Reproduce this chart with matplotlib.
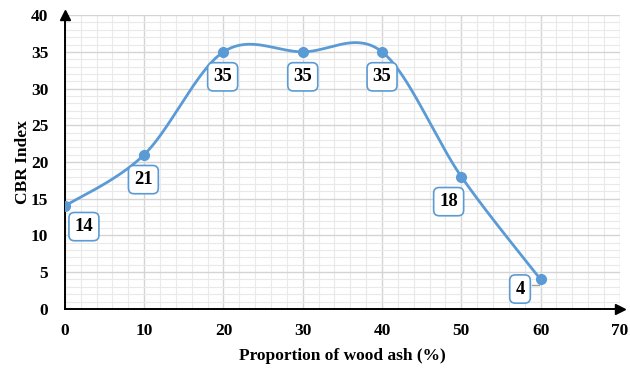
import numpy as np
import matplotlib.pyplot as plt
from matplotlib.ticker import MultipleLocator

# wood ash content vs CBR
ash = [0, 10, 20, 30, 40, 50, 60]
cbr = [14, 21, 35, 35, 35, 18, 4]
# label box centres (data units)
lab_x = [2.4, 9.9, 19.9, 30.0, 40.0, 48.4, 57.4]
lab_y = [11.2, 17.6, 31.6, 31.6, 31.6, 14.6, 2.7]

blue = '#5B9BD5'
serif = ['Liberation Serif', 'DejaVu Serif']


def smooth(xs, ys, n=40):
    # excel-like smoothed line: bezier segments with catmull-rom handles
    p = np.column_stack([xs, ys]).astype(float)
    p = np.vstack([p[0], p, p[-1]])
    out = []
    for i in range(1, len(p) - 2):
        p0, p1, p2, p3 = p[i - 1], p[i], p[i + 1], p[i + 2]
        c1 = p1 + (p2 - p0) / 6
        c2 = p2 - (p3 - p1) / 6
        t = np.linspace(0, 1, n)[:, None]
        seg = ((1 - t) ** 3) * p1 + 3 * t * (1 - t) ** 2 * c1 + 3 * t ** 2 * (1 - t) * c2 + t ** 3 * p2
        out.append(seg)
    out = np.vstack(out)
    return out[:, 0], out[:, 1]


fig = plt.figure(figsize=(6.3, 3.69), dpi=100)
ax = fig.add_axes([0.103, 0.163, 0.881, 0.796])

ax.set_xlim(0, 70)
ax.set_ylim(0, 40)
ax.xaxis.set_major_locator(MultipleLocator(10))
ax.xaxis.set_minor_locator(MultipleLocator(2))
ax.yaxis.set_major_locator(MultipleLocator(5))
ax.yaxis.set_minor_locator(MultipleLocator(1))
ax.grid(which='major', color='#d4d4d4', lw=1.0)
ax.grid(which='minor', color='#e9e9e9', lw=0.8)
ax.set_axisbelow(True)
ax.tick_params(which='both', length=0)
ax.tick_params(axis='x', pad=10)
ax.tick_params(axis='y', pad=12)

for s in ['top', 'right']:
    ax.spines[s].set_visible(False)
for s in ['left', 'bottom']:
    ax.spines[s].set_linewidth(1.4)

# arrow heads on the axes
ax.plot(1, 0, '>k', ms=7, transform=ax.transAxes, clip_on=False)
ax.plot(0, 1, '^k', ms=7, transform=ax.transAxes, clip_on=False)

sx, sy = smooth(ash, cbr)
ax.plot(sx, sy, color=blue, lw=2, zorder=3)
ax.plot(ash, cbr, 'o', color=blue, ms=7, zorder=4)

# leader for the last label
ax.plot([lab_x[-1] + 1.5, ash[-1] - 0.2, ash[-1] - 0.2], [lab_y[-1] + 0.5, lab_y[-1] + 0.5, cbr[-1] - 0.3],
        color='#a0a0a0', lw=1, zorder=3)

for x, y, v in zip(lab_x, lab_y, cbr):
    ax.text(x, y, str(v), ha='center', va='center', fontsize=13.5, fontweight='bold',
            family=serif, zorder=5,
            bbox=dict(boxstyle='round,pad=0.3,rounding_size=0.3', fc='white', ec=blue, lw=1.2))

for lbl in ax.get_xticklabels() + ax.get_yticklabels():
    lbl.set_family(serif)
    lbl.set_fontweight('bold')
    lbl.set_fontsize(12.5)

ax.set_xlabel('Proportion of wood ash (%)', family=serif, fontweight='bold', fontsize=12.5, labelpad=7)
ax.set_ylabel('CBR Index', family=serif, fontweight='bold', fontsize=12.5, labelpad=0)

fig.savefig('out.png', dpi=100)
